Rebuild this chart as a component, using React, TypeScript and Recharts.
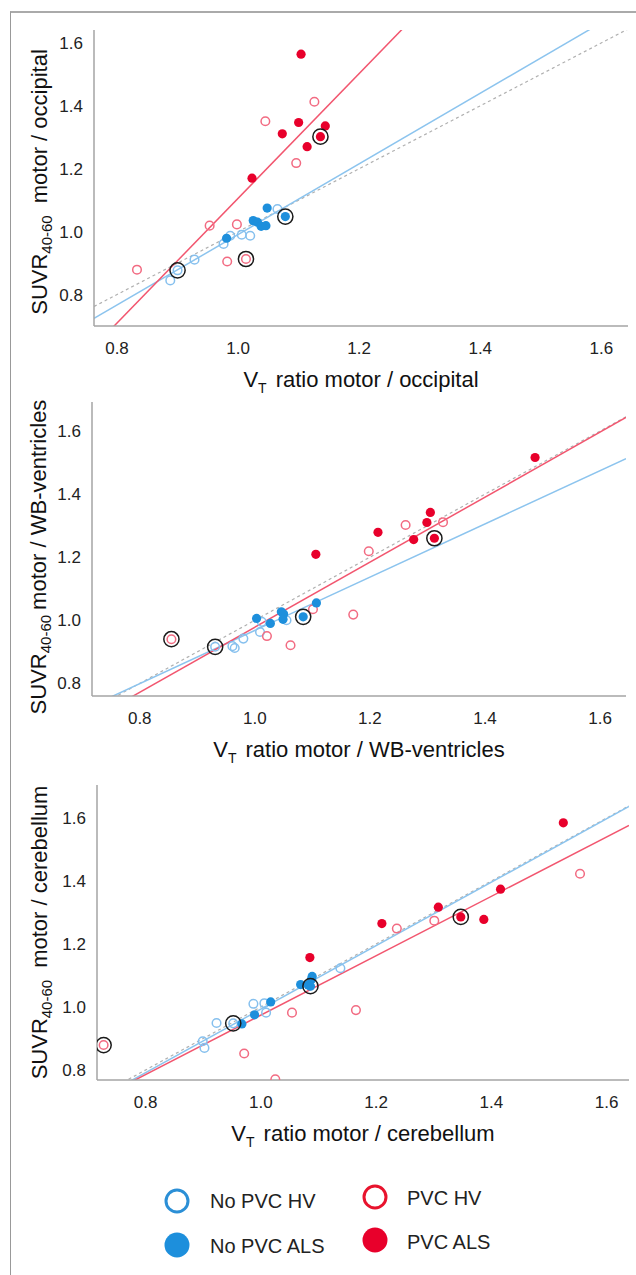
import React from 'react';
import { ScatterChart, Scatter, XAxis, YAxis, ReferenceLine } from 'recharts';

type Pt = [number, number];

const FONT = '"Liberation Sans", Arial, Helvetica, sans-serif';

const xTicks = [0.8, 1.0, 1.2, 1.4, 1.6];
const yTicks = [0.8, 1.0, 1.2, 1.4, 1.6];

// motor / occipital
const occNoPvcHV: Pt[] = [[1.065, 1.072], [1.006, 0.99], [1.02, 0.987], [0.987, 0.987], [0.976, 0.961], [0.928, 0.911], [0.9, 0.877], [0.888, 0.845]];
const occNoPvcALS: Pt[] = [[1.048, 1.075], [1.078, 1.048], [1.025, 1.035], [1.032, 1.03], [1.038, 1.017], [1.046, 1.019], [0.981, 0.979]];
const occPvcHV: Pt[] = [[1.126, 1.413], [1.045, 1.351], [1.096, 1.218], [0.953, 1.019], [0.998, 1.023], [0.982, 0.905], [1.013, 0.913], [0.833, 0.879]];
const occPvcALS: Pt[] = [[1.104, 1.564], [1.1, 1.347], [1.144, 1.336], [1.073, 1.311], [1.136, 1.302], [1.114, 1.27], [1.023, 1.17]];
const occCircled: Pt[] = [[1.136, 1.302], [1.078, 1.048], [1.013, 0.913], [0.9, 0.877]];
const occFitNoPvc = [1.122, -0.131]; // slope, intercept
const occFitPvc = [1.983, -0.877];

// motor / WB-ventricles
const wbNoPvcHV: Pt[] = [[1.055, 1.0], [1.012, 0.995], [1.009, 0.963], [0.98, 0.942], [0.961, 0.918], [0.965, 0.912], [0.931, 0.916]];
const wbNoPvcALS: Pt[] = [[1.107, 1.055], [1.046, 1.027], [1.05, 1.02], [1.003, 1.006], [1.027, 0.99], [1.049, 1.003], [1.084, 1.011]];
const wbPvcHV: Pt[] = [[1.327, 1.311], [1.262, 1.302], [1.198, 1.219], [1.101, 1.035], [1.171, 1.018], [1.021, 0.95], [1.062, 0.921], [0.855, 0.94]];
const wbPvcALS: Pt[] = [[1.487, 1.516], [1.305, 1.342], [1.299, 1.31], [1.214, 1.279], [1.276, 1.256], [1.312, 1.26], [1.106, 1.209]];
const wbCircled: Pt[] = [[1.312, 1.26], [1.084, 1.011], [0.855, 0.94], [0.931, 0.916]];
const wbFitNoPvc = [0.844, 0.124];
const wbFitPvc = [1.031, -0.053];

// motor / cerebellum
const cbNoPvcHV: Pt[] = [[1.138, 1.123], [0.987, 1.01], [1.006, 1.012], [1.009, 0.982], [0.923, 0.949], [0.952, 0.948], [0.899, 0.891], [0.902, 0.87]];
const cbNoPvcALS: Pt[] = [[1.089, 1.097], [1.088, 1.088], [1.069, 1.071], [1.082, 1.07], [1.086, 1.066], [1.017, 1.016], [0.989, 0.975], [0.967, 0.946]];
const cbPvcHV: Pt[] = [[1.554, 1.423], [1.236, 1.249], [1.301, 1.274], [1.165, 0.99], [1.054, 0.982], [0.971, 0.852], [1.025, 0.77], [0.727, 0.879]];
const cbPvcALS: Pt[] = [[1.525, 1.585], [1.416, 1.374], [1.308, 1.317], [1.347, 1.286], [1.387, 1.278], [1.21, 1.265], [1.085, 1.157]];
const cbCircled: Pt[] = [[1.347, 1.286], [1.086, 1.066], [0.727, 0.879], [0.952, 0.948]];
const cbFitNoPvc = [1.008, -0.015];
const cbFitPvc = [0.943, 0.031];

const identity = [1, 0];

const legendItems = ['No PVC HV', 'No PVC ALS', 'PVC HV', 'PVC ALS'];

const C_BLUE_OPEN = '#86c0ee';
const C_BLUE = '#1d8fdc';
const C_PINK = '#f26b82';
const C_RED = '#e8002b';

const toPts = (a: Pt[]) => a.map(([x, y]) => ({ x, y }));
const seg = (fit: number[], d: number[]) => [
  { x: d[0], y: fit[0] * d[0] + fit[1] },
  { x: d[1], y: fit[0] * d[1] + fit[1] },
];

const openShape = (color: string) => (p: any) => (
  <circle cx={p.cx} cy={p.cy} r={4.3} fill="none" stroke={color} strokeWidth={1.5} />
);
const dotShape = (color: string) => (p: any) => <circle cx={p.cx} cy={p.cy} r={4.6} fill={color} />;
const ringShape = (p: any) => (
  <circle cx={p.cx} cy={p.cy} r={7.6} fill="none" stroke="#1a1a1a" strokeWidth={1.5} />
);

interface PanelProps {
  top: number;
  height: number;
  margin: { top: number; right: number; left: number; bottom: number };
  yAxisWidth: number;
  xAxisHeight: number;
  xDomain: number[];
  yDomain: number[];
  noPvcHV: Pt[];
  noPvcALS: Pt[];
  pvcHV: Pt[];
  pvcALS: Pt[];
  circled: Pt[];
  fitNoPvc: number[];
  fitPvc: number[];
  region: string;
  yTitleX: number;
  yTitleShift: number;
  yTitleGap: number;
}

function Panel(p: PanelProps) {
  const tick = { fontSize: 17, fill: '#222', fontFamily: FONT };
  const axisLine = { stroke: '#a4a4a4', strokeWidth: 1.5 };
  return (
    <div style={{ position: 'absolute', left: 0, top: p.top }}>
      <ScatterChart width={636} height={p.height} margin={p.margin}>
        <XAxis
          type="number"
          dataKey="x"
          domain={p.xDomain}
          allowDataOverflow
          ticks={xTicks}
          interval={0}
          tickFormatter={(v: number) => v.toFixed(1)}
          tick={tick}
          tickLine={false}
          tickSize={0}
          tickMargin={16}
          axisLine={axisLine}
          height={p.xAxisHeight}
          label={{
            content: (props: any) => {
              const vb = props.viewBox;
              const cx = vb.x + vb.width / 2;
              const by = vb.y + 61;
              return (
                <text x={cx} y={by} textAnchor="middle" fontSize={22} fontFamily={FONT} fill="#111">
                  V<tspan dy={6} fontSize={14}>T</tspan>
                  <tspan dy={-6} dx={9}>ratio motor / {p.region}</tspan>
                </text>
              );
            },
          }}
        />
        <YAxis
          type="number"
          dataKey="y"
          domain={p.yDomain}
          allowDataOverflow
          ticks={yTicks}
          interval={0}
          tickFormatter={(v: number) => v.toFixed(1)}
          tick={tick}
          tickLine={false}
          tickSize={0}
          tickMargin={11}
          axisLine={axisLine}
          width={p.yAxisWidth}
          label={{
            content: (props: any) => {
              const vb = props.viewBox;
              const bx = p.yTitleX;
              const cy = vb.y + vb.height / 2 + p.yTitleShift;
              return (
                <text
                  x={bx}
                  y={cy}
                  transform={`rotate(-90 ${bx} ${cy})`}
                  textAnchor="middle"
                  fontSize={22}
                  fontFamily={FONT}
                  fill="#111"
                >
                  SUVR<tspan dy={5} fontSize={15}>40-60</tspan>
                  <tspan dy={-5} dx={p.yTitleGap}>motor / {p.region}</tspan>
                </text>
              );
            },
          }}
        />
        <ReferenceLine
          segment={seg(identity, p.xDomain)}
          ifOverflow="hidden"
          stroke="#b0b0b0"
          strokeWidth={1.2}
          strokeDasharray="3 3"
        />
        <ReferenceLine segment={seg(p.fitNoPvc, p.xDomain)} ifOverflow="hidden" stroke="#8cc4ee" strokeWidth={1.5} />
        <ReferenceLine segment={seg(p.fitPvc, p.xDomain)} ifOverflow="hidden" stroke="#f2566f" strokeWidth={1.5} />
        <Scatter data={toPts(p.noPvcHV)} shape={openShape(C_BLUE_OPEN)} isAnimationActive={false} />
        <Scatter data={toPts(p.pvcHV)} shape={openShape(C_PINK)} isAnimationActive={false} />
        <Scatter data={toPts(p.noPvcALS)} shape={dotShape(C_BLUE)} isAnimationActive={false} />
        <Scatter data={toPts(p.pvcALS)} shape={dotShape(C_RED)} isAnimationActive={false} />
        <Scatter data={toPts(p.circled)} shape={ringShape} isAnimationActive={false} />
      </ScatterChart>
    </div>
  );
}

function LegendBox() {
  const t = { fontSize: 20, fontFamily: FONT, fill: '#222' };
  return (
    <svg width={636} height={105} style={{ position: 'absolute', left: 0, top: 1170 }}>
      <circle cx={177} cy={31} r={11} fill="none" stroke="#2b8fd6" strokeWidth={3} />
      <text x={210} y={38} {...t}>{legendItems[0]}</text>
      <circle cx={177} cy={75} r={12.5} fill={C_BLUE} />
      <text x={210} y={83} {...t}>{legendItems[1]}</text>
      <circle cx={375} cy={27} r={11} fill="none" stroke="#e8132d" strokeWidth={3} />
      <text x={407} y={35} {...t}>{legendItems[2]}</text>
      <circle cx={375} cy={70} r={12.5} fill={C_RED} />
      <text x={407} y={79} {...t}>{legendItems[3]}</text>
    </svg>
  );
}

export default function App() {
  return (
    <div style={{ position: 'absolute', left: 0, top: 0, width: 636, height: 1275, background: '#fff', overflow: 'hidden' }}>
      <div
        style={{
          position: 'absolute',
          left: 10,
          top: 11,
          width: 640,
          height: 1280,
          borderTop: '2px solid #aaa',
          borderLeft: '1.5px solid #999',
        }}
      />
      <Panel
        top={0}
        height={400}
        margin={{ top: 30, right: 8, left: 0, bottom: 0 }}
        yAxisWidth={94}
        xAxisHeight={74}
        xDomain={[0.762, 1.644]}
        yDomain={[0.7, 1.641]}
        noPvcHV={occNoPvcHV}
        noPvcALS={occNoPvcALS}
        pvcHV={occPvcHV}
        pvcALS={occPvcALS}
        circled={occCircled}
        fitNoPvc={occFitNoPvc}
        fitPvc={occFitPvc}
        region="occipital"
        yTitleX={47}
        yTitleShift={4}
        yTitleGap={12}
      />
      <Panel
        top={380}
        height={400}
        margin={{ top: 22, right: 10, left: 0, bottom: 0 }}
        yAxisWidth={92}
        xAxisHeight={84}
        xDomain={[0.717, 1.645]}
        yDomain={[0.76, 1.692]}
        noPvcHV={wbNoPvcHV}
        noPvcALS={wbNoPvcALS}
        pvcHV={wbPvcHV}
        pvcALS={wbPvcALS}
        circled={wbCircled}
        fitNoPvc={wbFitNoPvc}
        fitPvc={wbFitPvc}
        region="WB-ventricles"
        yTitleX={46}
        yTitleShift={8}
        yTitleGap={5}
      />
      <Panel
        top={770}
        height={400}
        margin={{ top: 15, right: 7, left: 0, bottom: 0 }}
        yAxisWidth={97}
        xAxisHeight={90}
        xDomain={[0.7155, 1.639]}
        yDomain={[0.768, 1.705]}
        noPvcHV={cbNoPvcHV}
        noPvcALS={cbNoPvcALS}
        pvcHV={cbPvcHV}
        pvcALS={cbPvcALS}
        circled={cbCircled}
        fitNoPvc={cbFitNoPvc}
        fitPvc={cbFitPvc}
        region="cerebellum"
        yTitleX={47}
        yTitleShift={0}
        yTitleGap={12}
      />
      <LegendBox />
    </div>
  );
}
